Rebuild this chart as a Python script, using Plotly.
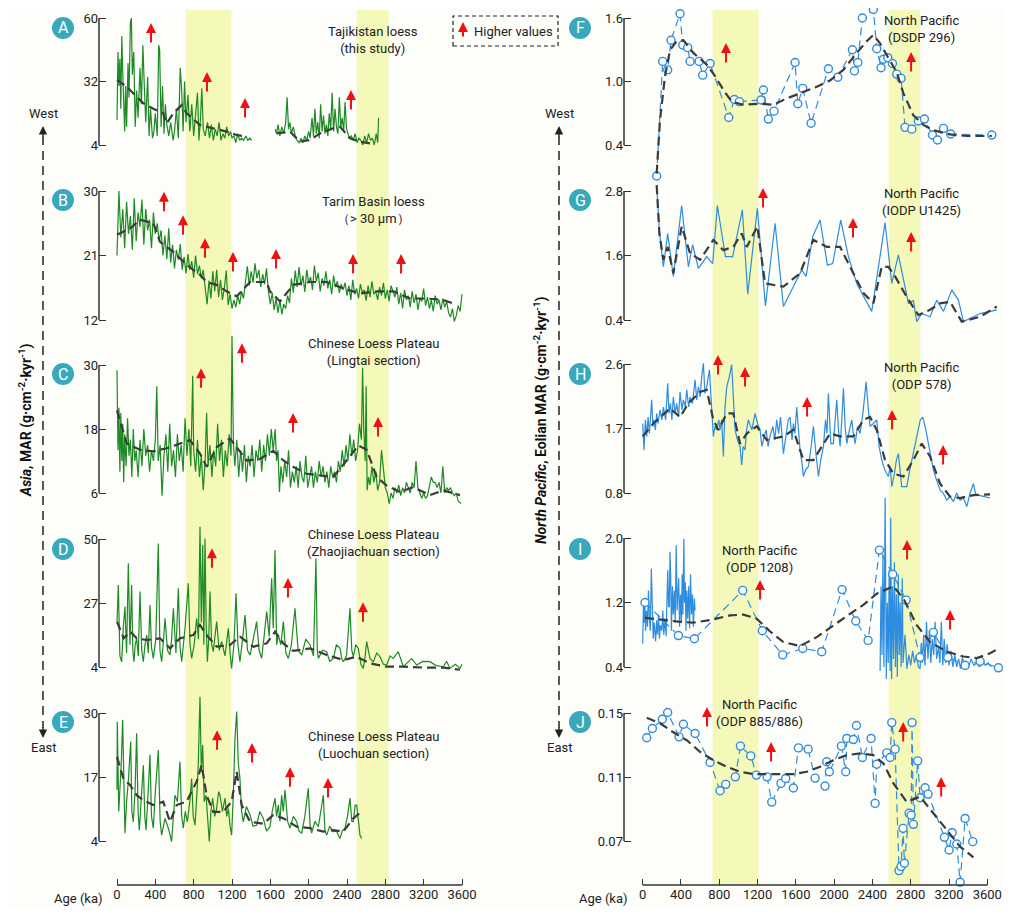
import plotly.graph_objects as go

# a página tem margem de 8 px no corpo: a figura é menor e as posições são deslocadas
OFF = 8
W, H = 1013 - 2 * OFF, 915 - 2 * OFF
cor_fundo = '#fdfdfa'
cor_verde = '#1d8a23'
cor_azul = '#2e8ddf'
cor_tracejado = '#3b3b3b'
cor_faixa = '#f4f8b9'
cor_letra = '#3aa8bb'
cor_seta = '#ee1111'
cor_texto = '#222222'

# ================= dados =================
idade_ticks = [0, 400, 800, 1200, 1600, 2000, 2400, 2800, 3200, 3600]
faixas_esq = [(717, 1193), (2501, 2835)]
faixas_dir = [(730, 1210), (2570, 2900)]

# ---- A: Tajikistan loess ----
a_ticks = [4, 32, 60]
a1_idade = [0, 10, 20, 30, 40, 50, 60, 70, 80, 90,
            100, 115, 125, 140, 150, 160, 175, 190, 205, 220,
            240, 255, 270, 285, 300, 320, 335, 350, 370, 385,
            400, 420, 435, 445, 460, 475, 490, 505, 520, 540,
            560, 585, 600, 620, 640, 660, 675, 690, 705, 720,
            740, 760, 780, 800, 820, 840, 855, 870, 885, 900,
            920, 945, 965, 985, 1005, 1025, 1045, 1065, 1085, 1105,
            1125, 1145, 1165, 1185, 1200, 1220, 1240, 1260, 1280, 1300,
            1320, 1345, 1365, 1385, 1405]
a1_val = [15, 45, 30, 42, 20, 52, 36, 18, 10, 30,
          12, 40, 25, 58, 60, 35, 45, 12, 28, 16,
          38, 22, 48, 30, 14, 34, 8, 20, 7, 10,
          18, 8, 48, 46, 12, 30, 9, 22, 13, 8,
          14, 6, 10, 20, 7, 38, 28, 10, 32, 14,
          26, 10, 22, 8, 18, 27, 6, 15, 29, 11,
          8, 14, 7, 13, 6, 11, 8, 14, 6, 9,
          7, 12, 8, 10, 7, 8, 5, 9, 6, 7,
          6, 8, 6, 7, 6]
a2_idade = [1650, 1665, 1680, 1700, 1720, 1740, 1760, 1775, 1790, 1805,
            1820, 1840, 1860, 1880, 1900, 1920, 1940, 1960, 1980, 2000,
            2015, 2035, 2050, 2065, 2080, 2095, 2110, 2125, 2140, 2155,
            2170, 2185, 2200, 2215, 2230, 2245, 2260, 2275, 2290, 2305,
            2320, 2335, 2350, 2365, 2380, 2395, 2410, 2425, 2445,
            2465, 2485, 2505, 2525, 2545, 2565, 2585, 2605, 2625, 2645,
            2665, 2685, 2705, 2720, 2730]
a2_val = [11, 9, 13, 8, 12, 9, 14, 25, 11, 14,
          9, 12, 8, 6, 5, 7, 5, 8, 6, 10,
          7, 16, 8, 20, 9, 14, 7, 22, 10, 17,
          9, 13, 8, 18, 11, 27, 10, 20, 12, 9,
          25, 12, 16, 10, 23, 11, 9, 7, 8,
          6, 9, 5, 7, 6, 4, 8, 5, 9, 6,
          7, 4, 9, 5, 16]
as1_idade = [0, 101, 170, 275, 379, 483, 518, 588, 675, 727, 866, 1005, 1144, 1249, 1353]
as1_val = [32.7, 29.7, 26.8, 22.4, 20, 18, 13.5, 18, 21.6, 18, 12.8, 11.4, 9.9, 8.4, 7.7]
as2_idade = [1666, 1805, 1909, 2014, 2118, 2257, 2327, 2431, 2536, 2640]
as2_val = [9.1, 9.9, 5.5, 6.2, 9.1, 11.4, 12.1, 6.9, 5.5, 4.7]

# ---- B: Tarim Basin loess ----
b_ticks = [12, 21, 30]
b_idade = [0, 20, 40, 60, 80, 100, 120, 140, 160, 180,
           200, 220, 240, 260, 280, 300, 320, 340, 360, 380,
           400, 420, 440, 460, 480, 500, 520, 540, 560, 580,
           600, 620, 640, 660, 680, 700, 720, 740, 760, 780,
           800, 820, 840, 860, 880, 900, 920, 940, 960, 980,
           1000, 1020, 1040, 1060, 1080, 1100, 1120, 1140, 1160, 1180,
           1200, 1220, 1240, 1260, 1280, 1300, 1320, 1340, 1360, 1380,
           1400, 1420, 1440, 1460, 1480, 1500, 1520, 1540, 1560, 1580,
           1600, 1620, 1640, 1660, 1680, 1700, 1720, 1740, 1760, 1780,
           1800, 1820, 1840, 1860, 1880, 1900, 1920, 1940, 1960, 1980,
           2000, 2020, 2040, 2060, 2080, 2100, 2120, 2140, 2160, 2180,
           2200, 2220, 2240, 2260, 2280, 2300, 2320, 2340, 2360, 2380,
           2400, 2420, 2440, 2460, 2480, 2500, 2520, 2540, 2560, 2580,
           2600, 2620, 2640, 2660, 2680, 2700, 2720, 2740, 2760, 2780,
           2800, 2820, 2840, 2860, 2880, 2900, 2920, 2940, 2960, 2980,
           3000, 3020, 3040, 3060, 3080, 3100, 3120, 3140, 3160, 3180,
           3200, 3220, 3240, 3260, 3280, 3300, 3320, 3340, 3360, 3380,
           3400, 3420, 3440, 3460, 3480, 3500, 3520, 3540, 3560, 3580,
           3600]
b_val = [21.0, 30.0, 23.5, 27.5, 22.0, 28.5, 24.0, 26.5, 21.8, 29.0,
         23.0, 27.0, 25.0, 28.8, 22.5, 27.5, 24.5, 26.0, 22.0, 27.0,
         24.0, 25.5, 23.0,
         24.5, 21.0, 23.8, 20.5, 24.8, 20.0, 22.5, 19.2, 21.8, 20.4, 22.6, 19.0,
         20.8, 18.5, 21.2, 19.0, 20.2, 17.9, 21.0, 18.4, 19.6, 17.8, 19.0, 16.5,
         14.2, 17.5, 15.0, 18.8, 16.0, 19.0, 15.2, 17.6, 14.8, 16.4, 18.9, 14.1, 15.6,
         13.6, 14.8, 13.8, 15.4, 14.2, 16.0, 15.0,
         17.5, 19.5, 16.8, 18.8, 17.2, 19.9, 17.8, 19.0, 16.6, 18.4, 17.0, 19.2,
         16.0, 14.2, 15.8, 13.4, 15.0, 13.0, 14.8, 12.8, 14.2, 13.6, 15.4, 14.4,
         17.8, 15.8, 18.9, 16.6, 19.4, 16.8, 18.2, 15.9, 19.0, 17.2,
         18.0, 16.2, 19.6, 17.4, 18.6, 16.0, 17.8, 16.8, 18.8, 16.4,
         17.6, 15.6, 18.2, 16.6, 17.4, 15.8, 17.0, 16.2,
         17.2, 15.4, 16.8, 14.8, 17.6, 15.6, 16.4, 15.0, 17.0, 15.8,
         16.2, 14.7, 16.8, 15.2, 17.4, 15.6, 16.0, 14.8, 16.6, 15.4,
         17.2, 15.0, 16.2, 14.6, 16.8, 15.8,
         15.2, 16.6, 14.2, 15.8, 13.6, 16.2, 14.8, 15.4, 13.8, 16.0,
         14.4, 15.6, 13.4, 15.0, 14.6, 16.4, 14.0, 15.2, 13.6, 14.8,
         13.2, 15.4, 14.2, 14.8, 13.4, 15.0, 13.8, 14.6, 13.0, 12.4,
         13.6, 11.8, 12.6, 14.0, 13.2, 15.6]
bs_idade = [0, 139, 240, 379, 449, 588, 727, 866, 935, 1040,
            1144, 1249, 1388, 1562, 1596, 1700, 1840, 2014, 2188, 2362,
            2535, 2710, 2883, 3057, 3231, 3405, 3509]
bs_val = [23.9, 24.8, 26.0, 25.5, 22.9, 21.5, 19.7, 18.3, 17.3, 16.9,
          16.0, 15.3, 17.3, 17.3, 16.0, 14.6, 16.9, 17.3, 17.3, 16.4,
          15.7, 16.0, 16.0, 15.0, 15.0, 14.8, 14.3]

# ---- C: Lingtai ----
c_ticks = [6, 18, 30]
c_idade = [0, 10, 20, 30, 40, 50, 60, 70, 80, 95,
           110, 125, 140, 155, 170, 185, 200, 220, 240, 260,
           280, 300, 320, 340, 360, 380, 400, 415, 430, 450,
           470, 490, 510, 530, 550, 570, 590, 610, 630, 650,
           670, 690, 710, 730, 750, 770, 790, 800, 820, 840,
           860, 880, 900, 920, 935, 950, 970, 990, 1010, 1030,
           1050, 1070, 1090, 1110, 1130, 1150, 1170, 1190, 1200, 1215,
           1230, 1250, 1270, 1290, 1310, 1330, 1350, 1370, 1390, 1410,
           1430, 1450, 1470, 1490, 1510, 1530, 1550, 1570, 1590, 1610,
           1630, 1650, 1665, 1680, 1695, 1710, 1730, 1750, 1770, 1790,
           1810, 1830, 1850, 1870, 1890, 1910, 1930, 1950, 1970, 1990,
           2010, 2030, 2050, 2070, 2090, 2110, 2130, 2150, 2170, 2190,
           2210, 2230, 2250, 2270, 2290, 2310, 2330, 2350, 2370, 2390,
           2410, 2430, 2450, 2470, 2490, 2510, 2530, 2550, 2563, 2575,
           2590, 2600, 2610, 2625, 2640, 2660, 2680, 2700, 2720, 2740,
           2760, 2780, 2800, 2820, 2840, 2860, 2880, 2900, 2920, 2940,
           2960, 2980, 3000, 3020, 3040, 3060, 3080, 3100, 3120, 3140,
           3160, 3180, 3200, 3220, 3240, 3260, 3280, 3300, 3320, 3340,
           3360, 3380, 3400, 3420, 3440, 3460, 3480, 3500, 3520, 3540,
           3560, 3590]
c_val = [29, 14, 22, 10, 21, 12, 19, 8, 17, 11,
         20, 13, 16, 9, 18, 12, 14, 9, 16, 11,
         18, 13, 15, 10, 14, 12, 16, 26, 12, 15,
         5.5, 13, 17, 10, 19, 11, 14, 9, 17, 12,
         15, 10, 20, 13, 18, 11, 28, 14, 10, 16,
         9, 13, 6.5, 12, 21, 11, 15, 9, 14, 11,
         19, 12, 16, 9, 14, 11, 17, 13, 35.5, 15,
         11, 16, 9, 14, 10, 15, 8, 13, 11, 15,
         9, 14, 12, 16, 10, 15, 12, 17, 13, 18,
         14, 18, 12, 14, 6.2, 11, 8, 12, 9, 14,
         7, 10, 8, 11, 7, 12, 9, 8, 13, 7,
         9, 11, 7, 10, 8, 12, 9, 11, 8, 10,
         7, 11, 9, 10, 8, 12, 10, 14, 11, 15,
         12, 17, 13, 16, 12, 14, 19, 16, 29.5, 18,
         12, 26, 6.5, 9, 7.5, 11, 8, 10, 6.5, 8,
         14, 10, 7, 6, 4, 6, 5, 7, 6, 7.5,
         5.5, 7, 6, 8, 7, 6, 8, 7, 12, 7,
         6, 5, 6, 5, 5.5, 7, 9, 8, 8, 7,
         8, 6, 11, 6, 7, 6.5, 7, 6, 5.5, 6,
         4.5, 4]
cs_idade = [0, 101, 240, 379, 518, 657, 762, 866, 936, 1040,
            1179, 1249, 1353, 1492, 1631, 1736, 1840, 1979, 2118, 2257,
            2396, 2518, 2605, 2710, 2814, 2953, 3092, 3266, 3405, 3579]
cs_val = [21.5, 15.3, 14.1, 13.8, 14.4, 15.3, 15.9, 13.4, 10.9, 14.6,
          16.2, 14.6, 12.1, 12.4, 13.9, 12.1, 10.9, 9.6, 9.3, 9.0,
          12.1, 14.9, 14.1, 9.0, 7.4, 6.2, 7.1, 5.6, 6.5, 5.6]

# ---- D: Zhaojiachuan ----
d_ticks = [4, 27, 50]
d_idade = [0, 14, 30, 49, 65, 83, 100, 118, 135, 153,
           165, 177, 190, 205, 222, 240, 258, 275, 292, 310,
           327, 344, 360, 379, 405, 431, 448, 466, 484, 501,
           527, 553, 570, 588, 615, 640, 658, 675, 710, 744,
           762, 779, 805, 831, 850, 866, 880, 894, 906, 918,
           930, 943, 957, 970, 988, 1005, 1022, 1040, 1066, 1092,
           1127, 1162, 1180, 1196, 1220, 1242, 1262, 1283, 1310, 1336,
           1362, 1388, 1422, 1457, 1483, 1509, 1535, 1562, 1588, 1614,
           1630, 1649, 1666, 1683, 1710, 1736, 1762, 1788, 1820, 1857,
           1890, 1927, 1970, 2014, 2050, 2076, 2090, 2101, 2145, 2188,
           2220, 2257, 2290, 2327, 2345, 2362, 2395, 2431, 2450, 2466,
           2492, 2518, 2545, 2570, 2590, 2605, 2640, 2675, 2710, 2744,
           2780, 2814, 2850, 2883, 2935, 2988, 3022, 3075, 3127, 3190,
           3266, 3330, 3405, 3440, 3475, 3530, 3579, 3600]
d_val = [20.3, 33.5, 8, 5.9, 18, 25.7, 9, 41.3, 12, 33.5,
         10, 5.9, 12, 14.3, 8, 31.1, 10, 5.9, 12, 15.5,
         9, 26.3, 11, 7.1, 14, 48.4, 10, 5.9, 13, 21.5,
         10, 8.3, 14, 25.1, 9, 32.3, 11, 5.9, 18, 34.1,
         12, 7.1, 12, 21.5, 14, 54.4, 20, 47.8, 12, 50.2,
         20, 5.9, 14, 31.1, 12, 9.5, 15, 20.3, 10, 13.1,
         8, 17.9, 9, 3.5, 12, 30.5, 12, 5.9, 14, 22.7,
         10, 8.3, 14, 20.3, 10, 7.1, 15, 23.9, 15, 35.9,
         18, 46, 12, 15.5, 12, 20.3, 9, 7.1, 12, 25.1,
         10, 8.3, 14, 11.9, 8, 43, 10, 7.1, 10, 9.5,
         6, 7.1, 12, 10.7, 7, 5.9, 8, 25.1, 10, 7.7,
         12, 10.7, 5, 3.5, 8, 13.1, 7, 5.9, 9, 7.7,
         5, 4.7, 8, 7.1, 9.5, 4.1, 5.3, 7, 4.7, 6,
         5.9, 4.5, 4.1, 6, 3.5, 5, 3.5, 5]
ds_idade = [0, 70, 139, 205, 310, 449, 553, 657, 796, 866,
            935, 1040, 1179, 1283, 1422, 1562, 1649, 1736, 1840, 2014,
            2188, 2362, 2501, 2640, 2814, 2988, 3196, 3405, 3579]
ds_val = [20.3, 14.3, 16.7, 14.3, 13.7, 14.3, 10.7, 14.3, 15.5, 19.1,
          15.5, 11.3, 11.9, 14.9, 11.3, 12.5, 16.7, 12.5, 9.8, 10.7,
          8.3, 6.5, 7.7, 5.3, 4.1, 4.1, 3.8, 3.8, 3.0]

# ---- E: Luochuan ----
e_ticks = [4, 17, 30]
e_idade = [0, 3, 18, 31, 45, 59, 83, 100, 118, 143,
           155, 170, 188, 205, 220, 233, 257, 275, 290, 303,
           320, 344, 360, 379, 400, 431, 450, 466, 501, 536,
           570, 590, 605, 630, 657, 675, 692, 712, 734, 760,
           779, 795, 814, 835, 849, 866, 880, 894, 910, 929,
           945, 963, 980, 998, 1020, 1040, 1060, 1075, 1100, 1127,
           1145, 1162, 1180, 1196, 1215, 1231, 1249, 1265, 1283, 1300,
           1318, 1350, 1388, 1420, 1457, 1490, 1527, 1560, 1596, 1620,
           1649, 1665, 1683, 1700, 1718, 1735, 1753, 1780, 1805, 1840,
           1875, 1900, 1927, 1960, 1996, 2015, 2031, 2065, 2101, 2125,
           2153, 2170, 2188, 2220, 2257, 2290, 2327, 2350, 2379, 2405,
           2431, 2450, 2466, 2485, 2501, 2520, 2535, 2553]
e_val = [14.4, 28.2, 10, 14, 20, 28.6, 5.6, 12, 16.1, 24.2,
         10, 7.9, 14, 25.9, 10, 6.2, 12.7, 19.4, 9, 6.2,
         12, 21.5, 9, 6.6, 14, 22.5, 8, 5.2, 8.6, 6.6,
         3.9, 9, 13.3, 12, 20.1, 9, 6.6, 10, 7.9, 12,
         16.7, 9, 7.2, 14, 20.1, 33.3, 18, 23.5, 12, 13.3,
         8, 3.9, 10, 12.7, 9, 10.6, 14, 13.3, 10, 12.7,
         9, 10.6, 7, 5.2, 14, 24.9, 30.3, 20, 16.7, 10,
         7.9, 11, 9.3, 7, 7.2, 10, 8.6, 6, 6.9, 10,
         12.7, 9, 11.3, 8, 13.3, 10, 14.4, 8, 6.6, 9,
         7.9, 6, 5.6, 9, 14.7, 7, 5.6, 8, 6.9, 10,
         13.3, 6, 5.2, 7, 5.9, 6, 4.5, 6, 6.6, 9,
         12.7, 8, 7.9, 11.3, 11.3, 8, 5.2, 4.5]
es_idade = [0, 66, 136, 205, 275, 379, 483, 553, 623, 727,
            831, 883, 935, 1005, 1109, 1196, 1249, 1301, 1388, 1527,
            1631, 1736, 1875, 2014, 2153, 2257, 2362, 2466, 2553]
es_val = [21.1, 16.7, 15.4, 13.3, 12.3, 11.3, 12.0, 7.9, 11.3, 12.0,
          16.1, 19.4, 13.3, 9.9, 9.9, 12.0, 18.1, 11.3, 7.9, 7.5,
          9.3, 8.6, 6.9, 6.6, 5.9, 6.2, 5.9, 8.6, 10.0]

# ---- F: DSDP 296 ----
f_ticks = [0.4, 1.0, 1.6]
f_idade = [146, 209, 261, 296, 390, 418, 470, 495, 589, 627,
           704, 899, 958, 1010, 1236, 1261, 1313, 1372, 1592, 1620,
           1672, 1759, 1940, 2038, 2191, 2212, 2247, 2295, 2410, 2445,
           2490, 2515, 2560, 2609, 2654, 2699, 2741, 2811, 2880, 2943,
           3027, 3079, 3142, 3218, 3647]
f_val = [0.107, 1.19, 1.11, 1.39, 1.64, 1.345, 1.32, 1.19, 1.19, 1.06,
         1.17, 0.66, 0.83, 0.81, 0.825, 0.92, 0.645, 0.72, 1.18, 0.79,
         0.935, 0.605, 1.12, 1.04, 1.30, 1.10, 1.18, 1.60, 1.68, 1.31,
         1.13, 1.21, 1.225, 1.17, 1.07, 1.03, 0.567, 0.55, 0.627, 0.645,
         0.494, 0.447, 0.557, 0.504, 0.494]
fs_idade = [146, 181, 233, 286, 355, 425, 529, 669, 756, 843,
            930, 1052, 1226, 1365, 1505, 1644, 1818, 1957, 2096, 2236,
            2340, 2410, 2479, 2549, 2653, 2723, 2828, 2932, 3036, 3210,
            3385, 3647]
fs_val = [0.13, 0.64, 1.05, 1.30, 1.38, 1.39, 1.27, 1.16, 1.05, 0.92,
          0.81, 0.78, 0.79, 0.78, 0.84, 0.89, 0.95, 1.01, 1.11, 1.27,
          1.38, 1.44, 1.36, 1.25, 1.09, 0.89, 0.68, 0.59, 0.54, 0.50,
          0.485, 0.485]

# ---- G: IODP U1425 ----
g_ticks = [0.4, 1.6, 2.8]
g_idade = [146, 174, 216, 261, 320, 407, 477, 522, 582, 669,
           731, 780, 864, 940, 1041, 1097, 1198, 1282, 1383, 1470,
           1661, 1707, 1776, 1853, 1930, 1985, 2069, 2149, 2236, 2393,
           2532, 2602, 2671, 2776, 2828, 2863, 2915, 3002, 3072, 3142,
           3229, 3298, 3351, 3525, 3699]
g_val = [2.91, 2.07, 1.39, 2.01, 1.21, 2.53, 1.39, 1.80, 1.36, 1.58,
         1.45, 2.53, 1.58, 1.58, 2.45, 0.88, 2.48, 0.66, 2.20, 0.65,
         1.33, 1.21, 1.95, 2.26, 1.42, 1.45, 2.26, 1.58, 1.08, 0.56,
         2.21, 1.08, 1.61, 0.71, 0.76, 0.37, 0.52, 0.46, 0.77, 0.56,
         0.96, 0.77, 0.37, 0.52, 0.59]
gs_idade = [146, 174, 216, 261, 320, 407, 495, 599, 738, 843,
            947, 1034, 1087, 1198, 1278, 1470, 1644, 1783, 1923, 2062,
            2166, 2306, 2410, 2497, 2567, 2637, 2758, 2880, 3002, 3107,
            3211, 3333, 3525, 3699]
gs_val = [2.91, 2.01, 1.52, 1.76, 1.27, 2.14, 1.64, 1.52, 1.89, 1.70,
          1.76, 2.01, 1.76, 2.14, 1.08, 1.02, 1.27, 1.89, 1.76, 1.76,
          1.39, 0.90, 0.71, 1.39, 1.39, 1.21, 0.83, 0.49, 0.59, 0.71,
          0.74, 0.37, 0.46, 0.65]

# ---- H: ODP 578 ----
h_ticks = [0.8, 1.7, 2.6]
h_idade = [0, 14, 28, 42, 56, 70, 94, 106, 118, 132,
           146, 160, 181, 200, 216, 240, 261, 275, 290, 305,
           320, 340, 355, 375, 390, 410, 425, 445, 460, 480,
           495, 520, 547, 565, 582, 600, 616, 634, 650, 669,
           697, 715, 738, 755, 773, 795, 808, 825, 843, 860,
           878, 905, 930, 950, 965, 990, 1017, 1034, 1050, 1069,
           1085, 1104, 1140, 1174, 1200, 1226, 1245, 1261, 1290, 1310,
           1330, 1360, 1380, 1400, 1420, 1440, 1470, 1500, 1520, 1539,
           1560, 1574, 1590, 1609, 1625, 1644, 1665, 1679, 1700, 1731,
           1760, 1783, 1810, 1836, 1860, 1888, 1910, 1925, 1940, 1965,
           1992, 2010, 2027, 2045, 2062, 2080, 2097, 2115, 2132, 2160,
           2184, 2200, 2219, 2245, 2271, 2300, 2334, 2355, 2375, 2410,
           2445, 2470, 2497, 2530, 2567, 2585, 2602, 2630, 2650, 2671,
           2690, 2706, 2740, 2759, 2790, 2811, 2840, 2863, 2900, 2926,
           2950, 2985, 3010, 3037, 3070, 3107, 3140, 3177, 3210, 3246,
           3280, 3316, 3350, 3386, 3420, 3455, 3480, 3507, 3570, 3629]
h_val = [1.77, 1.40, 1.82, 1.59, 1.86, 1.63, 2.10, 1.73, 1.82, 1.68,
         1.91, 1.77, 1.96, 1.82, 2.00, 1.82, 2.33, 1.91, 2.05, 1.82,
         2.14, 1.91, 2.05, 1.86, 2.21, 1.96, 2.10, 2.00, 2.24, 2.00,
         2.14, 2.05, 2.38, 2.10, 2.28, 2.14, 2.42, 2.61, 2.19, 2.28,
         2.52, 2.14, 1.59, 1.73, 1.68, 1.82, 1.68, 1.82, 1.31, 2.00,
         2.28, 2.42, 2.59, 2.05, 1.68, 1.54, 1.45, 1.19, 1.45, 1.40,
         1.68, 1.82, 1.68, 1.91, 1.77, 1.68, 1.45, 1.54, 1.68, 1.45,
         1.59, 1.73, 1.54, 1.82, 1.63, 1.86, 1.35, 1.63, 1.82, 1.86,
         1.54, 1.77, 1.63, 2.00, 1.68, 1.40, 1.21, 1.03, 1.12, 1.17,
         1.45, 1.73, 1.35, 1.03, 1.26, 1.45, 1.82, 1.63, 2.19, 1.49,
         1.49, 1.86, 2.10, 1.68, 1.45, 1.82, 2.26, 1.73, 1.49, 1.68,
         1.82, 1.63, 1.49, 1.73, 1.63, 1.91, 2.35, 2.00, 1.73, 1.77,
         1.82, 1.45, 1.26, 1.12, 1.03, 1.17, 0.89, 1.07, 1.26, 1.35,
         1.12, 0.89, 0.89, 0.89, 1.12, 1.26, 1.45, 1.59, 1.82, 1.86,
         1.73, 1.49, 1.31, 1.12, 0.98, 0.84, 0.80, 0.70, 0.75, 0.68,
         0.80, 0.70, 0.73, 0.61, 0.80, 0.93, 0.77, 0.77, 0.75, 0.73]
hs_idade = [0, 111, 286, 390, 477, 599, 669, 738, 791, 878,
            947, 1017, 1087, 1191, 1296, 1470, 1574, 1679, 1783, 1888,
            1957, 2062, 2201, 2306, 2375, 2445, 2532, 2619, 2724, 2828,
            2915, 3002, 3107, 3211, 3316, 3455, 3629]
hs_val = [1.59, 1.77, 1.98, 1.86, 2.05, 2.21, 2.24, 1.82, 1.68, 1.91,
          1.91, 1.49, 1.63, 1.73, 1.54, 1.59, 1.68, 1.26, 1.26, 1.49,
          1.63, 1.59, 1.59, 1.82, 1.86, 1.68, 1.26, 1.07, 1.03, 1.26,
          1.49, 1.31, 0.93, 0.75, 0.73, 0.77, 0.78]

# ---- I: ODP 1208 ----
i_ticks = [0.4, 1.2, 2.0]
i1_idade = [0, 8, 15, 22, 30, 40, 50, 60, 70, 80,
            90, 100, 110, 120, 135, 145, 155, 165, 175, 185,
            200, 210, 220, 235, 245, 255, 262, 270, 278, 285,
            292, 300, 310, 320, 330, 340, 350, 360, 368, 376,
            385, 395, 405, 412, 420, 430, 436, 445, 452, 460,
            470, 480, 490, 500, 510, 520, 530, 540, 547]
i1_val = [0.69, 1.18, 0.95, 1.22, 0.85, 1.10, 0.90, 1.35, 1.00, 0.85,
          1.62, 1.00, 0.75, 0.95, 0.72, 0.98, 0.80, 1.05, 0.75, 0.92,
          0.85, 1.10, 0.80, 1.00, 0.78, 1.30, 1.60, 1.15, 1.15, 1.83,
          1.55, 0.85, 1.40, 1.05, 1.35, 0.95, 1.91, 1.10, 1.30, 1.50,
          0.90, 1.30, 0.95, 1.55, 1.05, 1.99, 1.20, 1.45, 0.85, 1.35,
          1.00, 1.40, 0.88, 1.55, 1.05, 1.30, 0.90, 1.25, 1.10]
i2_idade = [2480, 2490, 2500, 2510, 2520, 2533, 2545, 2555, 2565, 2575,
            2585, 2591, 2600, 2610, 2620, 2630, 2640, 2650, 2660, 2670,
            2680, 2690, 2700, 2712, 2720, 2740, 2760, 2780, 2800, 2820,
            2840, 2860, 2880, 2898, 2910, 2920, 2935, 2950, 2965, 2980,
            2995, 3010, 3025, 3040, 3055, 3070, 3090, 3105, 3120, 3135,
            3150, 3165, 3180, 3200, 3220, 3240, 3260, 3280, 3300, 3320,
            3340, 3360, 3380, 3400, 3430, 3460, 3490, 3520, 3550, 3580,
            3610, 3640]
i2_val = [0.35, 1.40, 0.55, 1.80, 0.40, 2.50, 0.25, 1.20, 0.45, 1.60,
          0.35, 2.25, 0.25, 1.40, 0.50, 1.70, 0.40, 1.30, 0.28, 1.55,
          0.55, 1.20, 0.40, 1.50, 0.45, 0.80, 0.38, 0.55, 0.42, 0.60,
          0.45, 0.55, 0.40, 0.38, 0.70, 0.45, 0.80, 0.42, 0.96, 0.50,
          0.85, 0.45, 0.75, 0.55, 0.96, 0.50, 0.65, 0.45, 0.96, 0.42,
          0.75, 0.45, 0.68, 0.42, 0.60, 0.40, 0.55, 0.40, 0.50, 0.38,
          0.52, 0.42, 0.48, 0.38, 0.50, 0.42, 0.45, 0.40, 0.48, 0.42,
          0.45, 0.40]
ic_idade = [24, 373, 540, 1045, 1250, 1463, 1672, 1870, 2083, 2226,
            2355, 2473, 2612, 2752, 2898, 3037, 3187, 3368, 3525, 3716]
ic_val = [1.20, 0.79, 0.75, 1.35, 0.85, 0.55, 0.63, 0.59, 1.36, 0.97,
          0.73, 1.85, 1.55, 1.23, 0.52, 0.83, 0.52, 0.42, 0.47, 0.39]
is_idade = [24, 216, 390, 529, 738, 912, 1052, 1191, 1331, 1470,
            1644, 1818, 1992, 2166, 2306, 2445, 2619, 2724, 2863, 3002,
            3177, 3351, 3490, 3629, 3734]
is_val = [1.01, 0.98, 0.96, 0.95, 0.99, 1.04, 1.05, 1.00, 0.84, 0.71,
          0.66, 0.77, 0.92, 1.06, 1.17, 1.31, 1.40, 1.25, 0.92, 0.71,
          0.59, 0.53, 0.51, 0.57, 0.64]

# ---- J: ODP 885/886 ----
j_ticks = [0.07, 0.11, 0.15]
j_idade = [42, 101, 205, 261, 380, 425, 547, 704, 808, 867,
           968, 1021, 1129, 1188, 1299, 1348, 1445, 1494, 1574, 1627,
           1728, 1801, 1905, 1923, 1950, 2076, 2121, 2132, 2201, 2233,
           2295, 2386, 2428, 2445, 2550, 2584, 2602, 2637, 2678, 2699,
           2720, 2734, 2783, 2804, 2814, 2828, 2873, 2898, 2950, 2981,
           3152, 3201, 3232, 3281, 3316, 3368, 3448]
j_val = [0.1345, 0.1403, 0.1461, 0.1503, 0.1351, 0.1430, 0.1372, 0.1191, 0.1014, 0.1054,
         0.1101, 0.1293, 0.1232, 0.1112, 0.1101, 0.0943, 0.1060, 0.1091, 0.1031, 0.1282,
         0.1274, 0.1093, 0.1043, 0.1195, 0.1133, 0.1293, 0.1133, 0.1341, 0.1334, 0.1422,
         0.1222, 0.1341, 0.0935, 0.1180, 0.1251, 0.1222, 0.1440, 0.1274, 0.0515, 0.0540,
         0.0779, 0.0561, 0.0873, 0.0862, 0.1440, 0.0804, 0.1201, 0.0970, 0.1033, 0.0993,
         0.0723, 0.0644, 0.0752, 0.0681, 0.0442, 0.0841, 0.0696]
js_idade = [42, 181, 320, 460, 599, 738, 878, 1017, 1157, 1296,
            1435, 1574, 1714, 1853, 1992, 2132, 2271, 2410, 2515, 2619,
            2758, 2898, 3037, 3177, 3316, 3455]
js_val = [0.147, 0.1436, 0.138, 0.1330, 0.1257, 0.1205, 0.1164, 0.1133, 0.1118, 0.1116,
          0.1118, 0.1118, 0.1133, 0.1164, 0.1205, 0.1237, 0.1247, 0.1237, 0.1185, 0.1060,
          0.0945, 0.0977, 0.0873, 0.0769, 0.0665, 0.0598]


# ================= layout helpers =================
def px_x(p):
    return (p - OFF) / W


def px_y(p):
    return 1 - (p - OFF) / H


Y_EIXO_X = 885  # pixel da linha do eixo x


def eixo_x(p0, p3600, d_esq, d_dir):
    s = 3600 / (p3600 - p0)
    return dict(domain=[px_x(d_esq), px_x(d_dir)],
                range=[(d_esq - p0) * s, (d_dir - p0) * s],
                anchor='free', position=px_y(Y_EIXO_X),
                tickvals=idade_ticks, ticks='inside', ticklen=6, tickwidth=1.3,
                tickcolor='#333', showline=False, showgrid=False, zeroline=False,
                tickfont=dict(size=13, color=cor_texto))


def eixo_y(ticks, p_top, p_bot, x_anchor, fmt):
    s = (ticks[-1] - ticks[0]) / (p_bot - p_top)
    d_top = max(p_top - 45, OFF)
    d_bot = min(p_bot + 50, H + OFF)
    return dict(domain=[px_y(d_bot), px_y(d_top)],
                range=[ticks[0] - (d_bot - p_bot) * s, ticks[-1] + (p_top - d_top) * s],
                anchor=x_anchor, tickvals=ticks, tickformat=fmt,
                ticks='inside', ticklen=7, tickwidth=1.3, tickcolor='#333',
                showline=False, showgrid=False, zeroline=False,
                tickfont=dict(size=13, color=cor_texto))


# (letra, eixo y, eixo x, ticks, pixel topo, pixel base, formato, centro da letra)
paineis = [
    ('A', 'y', 'x', a_ticks, 18, 145, 'd', (63, 28)),
    ('B', 'y2', 'x', b_ticks, 191, 320, 'd', (63, 200)),
    ('C', 'y3', 'x', c_ticks, 365, 493, 'd', (63, 374)),
    ('D', 'y4', 'x', d_ticks, 539, 667, 'd', (63, 549)),
    ('E', 'y5', 'x', e_ticks, 713, 841, 'd', (63, 722)),
    ('F', 'y6', 'x2', f_ticks, 18, 145, '.1f', (580, 28)),
    ('G', 'y7', 'x2', g_ticks, 191, 320, '.1f', (580, 200)),
    ('H', 'y8', 'x2', h_ticks, 364, 493, '.1f', (580, 374)),
    ('I', 'y9', 'x2', i_ticks, 538, 667, '.1f', (580, 549)),
    ('J', 'y10', 'x2', j_ticks, 713, 841, '.2f', (580, 722)),
]

fig = go.Figure()


def linha(x, y, eixo_x_, eixo_y_, cor, largura=1.2):
    fig.add_trace(go.Scatter(x=x, y=y, xaxis=eixo_x_, yaxis=eixo_y_, mode='lines',
                             line=dict(color=cor, width=largura), hoverinfo='skip'))


def suave(x, y, eixo_x_, eixo_y_):
    fig.add_trace(go.Scatter(x=x, y=y, xaxis=eixo_x_, yaxis=eixo_y_, mode='lines',
                             line=dict(color=cor_tracejado, width=2.2, dash='9px,5px'),
                             hoverinfo='skip'))


def circulos(x, y, eixo_y_):
    fig.add_trace(go.Scatter(x=x, y=y, xaxis='x2', yaxis=eixo_y_, mode='lines+markers',
                             line=dict(color=cor_azul, width=1.2, dash='8px,5px'),
                             marker=dict(symbol='circle', size=8, color=cor_fundo,
                                         line=dict(color=cor_azul, width=1.4)),
                             hoverinfo='skip'))


# Ásia (verde)
linha(a1_idade, a1_val, 'x', 'y', cor_verde)
linha(a2_idade, a2_val, 'x', 'y', cor_verde)
suave(as1_idade, as1_val, 'x', 'y')
suave(as2_idade, as2_val, 'x', 'y')
linha(b_idade, b_val, 'x', 'y2', cor_verde)
suave(bs_idade, bs_val, 'x', 'y2')
linha(c_idade, c_val, 'x', 'y3', cor_verde)
suave(cs_idade, cs_val, 'x', 'y3')
linha(d_idade, d_val, 'x', 'y4', cor_verde)
suave(ds_idade, ds_val, 'x', 'y4')
linha(e_idade, e_val, 'x', 'y5', cor_verde)
suave(es_idade, es_val, 'x', 'y5')

# Pacífico Norte (azul)
circulos(f_idade, f_val, 'y6')
suave(fs_idade, fs_val, 'x2', 'y6')
linha(g_idade, g_val, 'x2', 'y7', cor_azul)
suave(gs_idade, gs_val, 'x2', 'y7')
linha(h_idade, h_val, 'x2', 'y8', cor_azul)
suave(hs_idade, hs_val, 'x2', 'y8')
linha(i1_idade, i1_val, 'x2', 'y9', cor_azul)
linha(i2_idade, i2_val, 'x2', 'y9', cor_azul)
circulos(ic_idade, ic_val, 'y9')
suave(is_idade, is_val, 'x2', 'y9')
circulos(j_idade, j_val, 'y10')
suave(js_idade, js_val, 'x2', 'y10')

# ================= eixos =================
layout = dict(xaxis=eixo_x(117, 462, 99, 480), xaxis2=eixo_x(642.7, 987.3, 624, 1004))
shapes = []
annotations = []


def texto(txt, xp, yp, tam=13, cor=cor_texto, **kw):
    d = dict(text=txt, x=px_x(xp), y=px_y(yp), xref='paper', yref='paper',
             xanchor='center', yanchor='middle', showarrow=False,
             font=dict(size=tam, color=cor))
    d.update(kw)
    annotations.append(d)


for letra, ey, ex, ticks, p_top, p_bot, fmt, (cx, cy) in paineis:
    nome = 'yaxis' if ey == 'y' else 'yaxis' + ey[1:]
    layout[nome] = eixo_y(ticks, p_top, p_bot, ex, fmt)
    shapes.append(dict(type='line', xref=ex + ' domain', yref=ey, x0=0, x1=0,
                       y0=ticks[0], y1=ticks[-1], line=dict(color='#333', width=1.5)))
    shapes.append(dict(type='circle', xref='paper', yref='paper', xsizemode='pixel',
                       ysizemode='pixel', xanchor=px_x(cx), yanchor=px_y(cy),
                       x0=-11, x1=11, y0=-11, y1=11, fillcolor=cor_letra,
                       line=dict(width=0), layer='below'))
    texto(letra, cx, cy, tam=16, cor='white')

# linhas dos eixos x
for ex in ['x', 'x2']:
    shapes.append(dict(type='line', xref=ex, yref='paper', x0=0, x1=3600,
                       y0=px_y(Y_EIXO_X), y1=px_y(Y_EIXO_X), line=dict(color='#333', width=1.5)))

# faixas amarelas
for ex, faixas in [('x', faixas_esq), ('x2', faixas_dir)]:
    for f0, f1 in faixas:
        shapes.append(dict(type='rect', xref=ex, yref='paper', x0=f0, x1=f1,
                           y0=px_y(884), y1=px_y(10), fillcolor=cor_faixa,
                           line=dict(width=0), layer='below'))

# setas West/East
for xp in [43, 559]:
    shapes.append(dict(type='line', xref='paper', yref='paper', x0=px_x(xp), x1=px_x(xp),
                       y0=px_y(136), y1=px_y(728), line=dict(color='#222', width=1.5, dash='9px,6px')))
    annotations.append(dict(x=px_x(xp), y=px_y(126), xref='paper', yref='paper', ax=0, ay=12,
                            text='', showarrow=True, arrowhead=2, arrowsize=1.2,
                            arrowwidth=1.4, arrowcolor='#222'))
    annotations.append(dict(x=px_x(xp), y=px_y(738), xref='paper', yref='paper', ax=0, ay=-12,
                            text='', showarrow=True, arrowhead=2, arrowsize=1.2,
                            arrowwidth=1.4, arrowcolor='#222'))
    texto('West', xp, 113)
    texto('East', xp, 747)

# títulos dos eixos
texto('<b><i>Asia</i>, MAR (g·cm<sup>-2</sup>·kyr<sup>-1</sup>)</b>', 25, 420, tam=14,
      cor='#111', textangle=-90)
texto('<b><i>North Pacific</i>, Eolian MAR (g·cm<sup>-2</sup>·kyr<sup>-1</sup>)</b>', 540, 420,
      tam=14, cor='#111', textangle=-90)
for xp in [78, 603]:
    texto('Age (ka)', xp, 898)

# rótulos dos registros
rotulos = [
    ('Tajikistan loess<br>(this study)', 373, 40),
    ('Tarim Basin loess<br>（> 30 μm）', 373, 210),
    ('Chinese Loess Plateau<br>(Lingtai section)', 373, 352),
    ('Chinese Loess Plateau<br>(Zhaojiachuan section)', 373, 543),
    ('Chinese Loess Plateau<br>(Luochuan section)', 373, 745),
    ('North Pacific<br>(DSDP 296)', 921, 29),
    ('North Pacific<br>(IODP U1425)', 921, 202),
    ('North Pacific<br>(ODP 578)', 921, 376),
    ('North Pacific<br>(ODP 1208)', 759, 559),
    ('North Pacific<br>(ODP 885/886)', 759, 713),
]
for txt, xp, yp in rotulos:
    texto(txt, xp, yp)

# setas vermelhas (valores mais altos)
setas = [
    ('x', 'y', 355, 57.8), ('x', 'y', 939, 36.2), ('x', 'y', 1336, 24.7), ('x', 'y', 2442, 28.3),
    ('x', 'y2', 490, 29.9), ('x', 'y2', 689, 26.6), ('x', 'y2', 918, 23.4), ('x', 'y2', 1210, 21.5),
    ('x', 'y2', 1659, 21.9), ('x', 'y2', 2463, 21.2), ('x', 'y2', 2964, 21.2),
    ('x', 'y3', 877, 29.4), ('x', 'y3', 1304, 34.1), ('x', 'y3', 1837, 21.0), ('x', 'y3', 2724, 20.25),
    ('x', 'y4', 991, 46.7), ('x', 'y4', 1784, 36.0), ('x', 'y4', 2567, 27.3),
    ('x', 'y5', 1044, 26.5), ('x', 'y5', 1409, 23.9), ('x', 'y5', 1805, 19.0), ('x', 'y5', 2202, 16.8),
    ('x2', 'y6', 870, 1.364), ('x2', 'y6', 2804, 1.279),
    ('x2', 'y7', 1257, 2.855), ('x2', 'y7', 2197, 2.297), ('x2', 'y7', 2804, 2.037),
    ('x2', 'y8', 787, 2.725), ('x2', 'y8', 1069, 2.558), ('x2', 'y8', 1717, 2.139),
    ('x2', 'y8', 2605, 1.958), ('x2', 'y8', 3138, 1.470),
    ('x2', 'y9', 1226, 1.479), ('x2', 'y9', 2762, 1.975), ('x2', 'y9', 3211, 1.107),
    ('x2', 'y10', 672, 0.1538), ('x2', 'y10', 1341, 0.1319), ('x2', 'y10', 2721, 0.1444),
    ('x2', 'y10', 3118, 0.110),
]
for ex, ey, xv, yv in setas:
    annotations.append(dict(x=xv, y=yv, xref=ex, yref=ey, ax=0, ay=21, text='',
                            showarrow=True, arrowhead=2, arrowsize=1, arrowwidth=2,
                            arrowcolor=cor_seta))

# legenda
shapes.append(dict(type='rect', xref='paper', yref='paper', x0=px_x(453), x1=px_x(558),
                   y0=px_y(46), y1=px_y(16), line=dict(color='#222', width=1.2, dash='4px,3px')))
annotations.append(dict(x=px_x(463), y=px_y(22), xref='paper', yref='paper', ax=0, ay=16,
                        text='', showarrow=True, arrowhead=2, arrowsize=1, arrowwidth=2,
                        arrowcolor=cor_seta))
texto('Higher values', 472, 31, xanchor='left')

fig.update_layout(
    width=W, height=H,
    margin=dict(l=0, r=0, t=0, b=0),
    paper_bgcolor=cor_fundo,
    plot_bgcolor='rgba(0,0,0,0)',
    showlegend=False,
    font=dict(family='Roboto', size=13, color=cor_texto),
    shapes=shapes,
    annotations=annotations,
    **layout
)

fig.write_html("out.html")
